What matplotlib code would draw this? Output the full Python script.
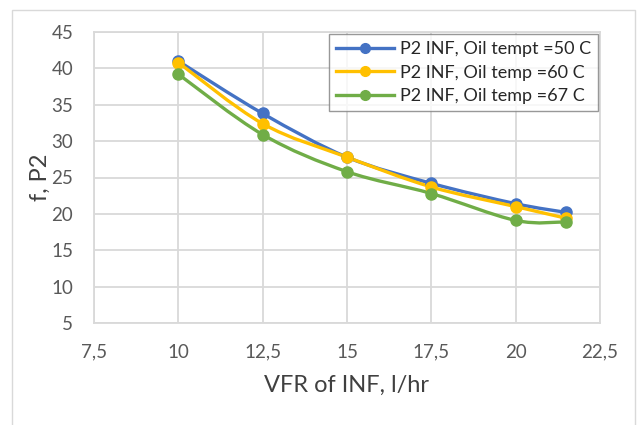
import numpy as np
import matplotlib
matplotlib.use("Agg")
import matplotlib.pyplot as plt
from matplotlib.path import Path
from matplotlib.patches import PathPatch, Rectangle
from matplotlib.lines import Line2D

plt.rcParams['font.family'] = ['Lato', 'DejaVu Sans']

# Daten
vfr = [10, 12.5, 15, 17.5, 20, 21.5]
p2_50 = [41.0, 33.8, 27.8, 24.2, 21.4, 20.2]
p2_60 = [40.8, 32.4, 27.8, 23.7, 21.0, 19.4]
p2_67 = [39.2, 30.9, 25.8, 22.8, 19.1, 18.9]
labels = ["P2 INF, Oil tempt =50 C", "P2 INF, Oil temp =60 C", "P2 INF, Oil temp =67 C"]
colors = ["#4472C4", "#FFC000", "#70AD47"]

xticks = [7.5, 10, 12.5, 15, 17.5, 20, 22.5]
yticks = [5, 10, 15, 20, 25, 30, 35, 40, 45]


def smooth_path(x, y):
    # Excel-artige geglaettete Linie (Catmull-Rom als Bezier)
    pts = np.column_stack([x, y]).astype(float)
    n = len(pts)
    verts = [pts[0]]
    codes = [Path.MOVETO]
    for i in range(n - 1):
        p0 = pts[i - 1] if i > 0 else pts[i]
        p1 = pts[i]
        p2 = pts[i + 1]
        p3 = pts[i + 2] if i + 2 < n else pts[i + 1]
        c1 = p1 + (p2 - p0) / 6.0
        c2 = p2 - (p3 - p1) / 6.0
        verts += [c1, c2, p2]
        codes += [Path.CURVE4] * 3
    return Path(verts, codes)


fig = plt.figure(figsize=(6.37, 4.25), dpi=100)
fig.patches.append(Rectangle((12 / 637, -0.05), (635 - 12) / 637, 1 - 10 / 425 + 0.05,
                             transform=fig.transFigure, fill=False,
                             edgecolor="#d9d9d9", linewidth=1.0))
ax = fig.add_axes([94 / 637, 1 - 323 / 425, (600 - 94) / 637, (323 - 32) / 425])

handles = []
for ys, c, lab in zip([p2_50, p2_60, p2_67], colors, labels):
    ax.add_patch(PathPatch(smooth_path(vfr, ys), facecolor="none", edgecolor=c,
                           linewidth=2.4, zorder=3, capstyle="round"))
    ax.plot(vfr, ys, linestyle="none", marker="o", markersize=8, color=c, zorder=4)
    handles.append(Line2D([], [], color=c, linewidth=2.4, marker="o", markersize=7))

ax.set_xlim(7.5, 22.5)
ax.set_ylim(5, 45)
ax.set_xticks(xticks)
ax.set_yticks(yticks)
ax.set_xticklabels([("%g" % v).replace(".", ",") for v in xticks])
ax.set_yticklabels([str(v) for v in yticks])
ax.tick_params(length=0, labelsize=13.5, colors="#595959")
ax.tick_params(axis="x", pad=15)
ax.tick_params(axis="y", pad=15)
ax.grid(True, color="#d9d9d9", linewidth=1.3)
ax.set_axisbelow(True)
for s in ax.spines.values():
    s.set_color("#d9d9d9")
    s.set_linewidth(1.3)

ax.set_xlabel("VFR of INF, l/hr", fontsize=17, color="#404040", labelpad=10)
ax.set_ylabel("f, P2", fontsize=17, color="#404040", labelpad=0)

leg = ax.legend(handles, labels, loc="upper right", fontsize=13, frameon=True,
                fancybox=False, edgecolor="#7f7f7f", borderaxespad=0.1,
                handlelength=3.2, labelspacing=0.42, borderpad=0.4, handletextpad=0.35)
leg.get_frame().set_linewidth(1.0)
for t in leg.get_texts():
    t.set_color("#262626")

fig.savefig("out.png", dpi=100)
